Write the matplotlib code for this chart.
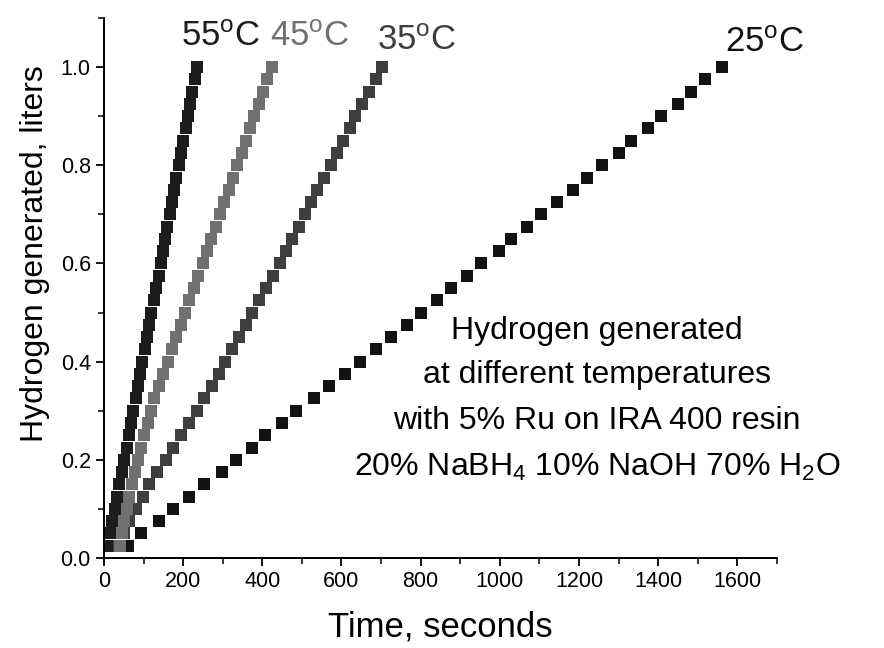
import matplotlib
matplotlib.use("Agg")
import matplotlib.pyplot as plt
from matplotlib.ticker import MultipleLocator, FormatStrFormatter

plt.rcParams['font.family'] = ['Liberation Sans', 'DejaVu Sans']
plt.rcParams['mathtext.fontset'] = 'custom'
plt.rcParams['mathtext.rm'] = 'Liberation Sans'
plt.rcParams['mathtext.it'] = 'Liberation Sans:italic'

# hydrogen volume (liters) at each reading, shared by all runs
volume = [0.025, 0.05, 0.075, 0.1, 0.125, 0.15, 0.175, 0.2, 0.225, 0.25,
          0.275, 0.3, 0.325, 0.35, 0.375, 0.4, 0.425, 0.45, 0.475, 0.5,
          0.525, 0.55, 0.575, 0.6, 0.625, 0.65, 0.675, 0.7, 0.725, 0.75,
          0.775, 0.8, 0.825, 0.85, 0.875, 0.9, 0.925, 0.95, 0.975, 1.0]

# time (s) at which each volume was reached
t_55 = [8, 14, 20, 27, 33, 39, 45, 51, 57, 62,
        68, 74, 80, 86, 92, 97, 103, 109, 115, 120,
        126, 132, 138, 143, 149, 155, 160, 166, 172, 178,
        183, 189, 195, 200, 206, 212, 218, 223, 229, 235]
t_45 = [40, 46, 51, 57, 63, 70, 78, 86, 94, 102,
        110, 118, 127, 138, 150, 161, 172, 183, 194, 205,
        216, 227, 238, 249, 260, 271, 282, 293, 304, 315,
        326, 337, 348, 359, 369, 380, 391, 402, 413, 424]
t_35 = [38, 50, 63, 80, 98, 115, 135, 157, 174, 195,
        216, 235, 253, 272, 290, 307, 324, 341, 358, 375,
        392, 410, 427, 444, 460, 476, 492, 507, 522, 538,
        555, 574, 589, 604, 621, 635, 652, 669, 686, 703]
t_25 = [61, 93, 140, 175, 216, 253, 298, 333, 374, 408,
        451, 485, 530, 568, 610, 648, 686, 724, 766, 800,
        842, 876, 918, 952, 998, 1028, 1068, 1104, 1144, 1184,
        1220, 1257, 1300, 1332, 1374, 1408, 1450, 1484, 1519, 1561]

labels = ['55$^{\\mathregular{o}}$C', '45$^{\\mathregular{o}}$C',
          '35$^{\\mathregular{o}}$C', '25$^{\\mathregular{o}}$C']
colors = ['#1c1c1c', '#707070', '#3e3e3e', '#121212']
note_lines = ['Hydrogen generated',
              'at different temperatures',
              'with 5% Ru on IRA 400 resin',
              '20% NaBH$_4$ 10% NaOH 70% H$_2$O']

fig = plt.figure(figsize=(8.84, 6.48), dpi=100)
ax = fig.add_axes([0.1176, 0.1389, 0.7613, 0.8333])

series = [t_25, t_35, t_45, t_55]
series_colors = [colors[3], colors[2], colors[1], colors[0]]
for t, c in zip(series, series_colors):
    ax.plot(t, volume, linestyle='none', marker='s', markersize=8.5,
            markeredgewidth=0, color=c)

# temperature labels above the curve ends
label_pos = [(295, 1.063), (520, 1.063), (790, 1.055), (1668, 1.05)]
for lab, c, (x, y) in zip(labels, colors, label_pos):
    ax.text(x, y, lab, fontsize=25, color=c, ha='center', va='center')

note_y = [0.463, 0.372, 0.280, 0.185]
for line, y in zip(note_lines, note_y):
    ax.text(1245, y, line, fontsize=23, ha='center', va='center')

ax.set_xlim(0, 1700)
ax.set_ylim(0, 1.1)
ax.xaxis.set_major_locator(MultipleLocator(200))
ax.xaxis.set_minor_locator(MultipleLocator(100))
ax.yaxis.set_major_locator(MultipleLocator(0.2))
ax.yaxis.set_minor_locator(MultipleLocator(0.1))
ax.yaxis.set_major_formatter(FormatStrFormatter('%.1f'))

for side in ['top', 'right']:
    ax.spines[side].set_visible(False)
for side in ['left', 'bottom']:
    ax.spines[side].set_linewidth(1.4)

ax.tick_params(which='major', direction='out', length=6, width=1.3, labelsize=15.5)
ax.tick_params(which='minor', direction='out', length=4, width=1.1)

ax.set_xlabel('Time, seconds', fontsize=25)
ax.set_ylabel('Hydrogen generated, liters', fontsize=23)
ax.xaxis.set_label_coords(0.5, -0.098)
ax.yaxis.set_label_coords(-0.08, 0.563)

fig.savefig('out.png', dpi=100)
